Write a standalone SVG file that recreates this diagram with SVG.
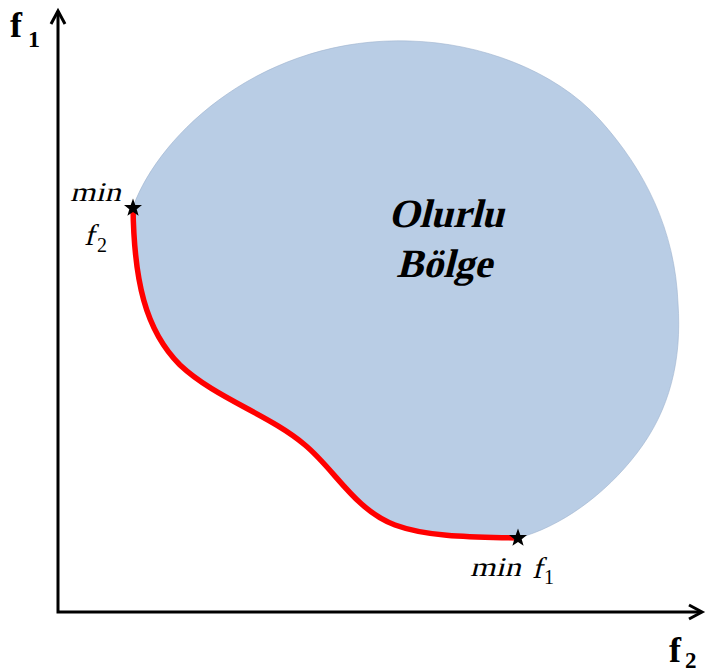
<svg xmlns="http://www.w3.org/2000/svg" width="707" height="672" viewBox="0 0 707 672">
<style>
.axis{stroke:#000;stroke-width:3;fill:none}
.lbl{font-family:"Liberation Serif","DejaVu Serif",serif;fill:#000}
.ax{font-family:"Liberation Serif","DejaVu Serif",serif;font-weight:bold;fill:#000}
.star{fill:#000}
</style>
<rect width="707" height="672" fill="#fff"/>
<g id="region">
<path d="M133,207 C160,132 265,36 410,41 C480,43 555,70 600,120 C645,170 675,230 678,303 C682,360 670,410 637,453 C605,495 560,527 518,538 C480,537 430,538 395,525 C355,510 335,470 305,445 C270,415 215,398 180,365 C145,330 134,280 133,207 Z" fill="#B9CDE5" stroke="#9FB4CF" stroke-width="0.6"/>
<text class="ax" font-size="40" transform="translate(446,227) skewX(-14)" text-anchor="middle">Olurlu</text>
<text class="ax" font-size="40" transform="translate(444,277) skewX(-14)" text-anchor="middle">Bölge</text>
</g>
<g id="connectors">
<path d="M133,207 C134,280 145,330 180,365 C215,398 270,415 305,445 C335,470 355,510 395,525 C430,538 480,537 518,538" fill="none" stroke="#FF0000" stroke-width="5.5" stroke-linecap="round"/>
</g>
<g id="axes">
<path class="axis" d="M58,11 V612 H701"/>
<path class="axis" d="M51,24 L58,11 L65,24"/>
<path class="axis" d="M689,605 L702,612 L689,619"/>
<text class="ax" font-size="36" x="10" y="37">f</text>
<text class="ax" font-size="24" x="28" y="47">1</text>
<text class="ax" font-size="36" x="669" y="662">f</text>
<text class="ax" font-size="23" x="685" y="668">2</text>
</g>
<g id="min-f2">
<polygon class="star" transform="translate(133,208)" points="0,-9.5 2.3,-3.1 9,-2.9 3.7,1.2 5.6,7.7 0,3.9 -5.6,7.7 -3.7,1.2 -9,-2.9 -2.3,-3.1"/>
<text class="lbl" font-size="27" transform="translate(70,201) skewX(-14)" textLength="51" lengthAdjust="spacingAndGlyphs">min</text>
<text class="lbl" font-size="30" transform="translate(84,245) skewX(-14)">f</text>
<text class="lbl" font-size="20" x="97" y="252">2</text>
</g>
<g id="min-f1">
<polygon class="star" transform="translate(518,538)" points="0,-9.5 2.3,-3.1 9,-2.9 3.7,1.2 5.6,7.7 0,3.9 -5.6,7.7 -3.7,1.2 -9,-2.9 -2.3,-3.1"/>
<text class="lbl" font-size="27" transform="translate(470,576) skewX(-14)" textLength="51" lengthAdjust="spacingAndGlyphs">min</text>
<text class="lbl" font-size="30" transform="translate(532,578) skewX(-14)">f</text>
<text class="lbl" font-size="20" x="544" y="584">1</text>
</g>
</svg>
